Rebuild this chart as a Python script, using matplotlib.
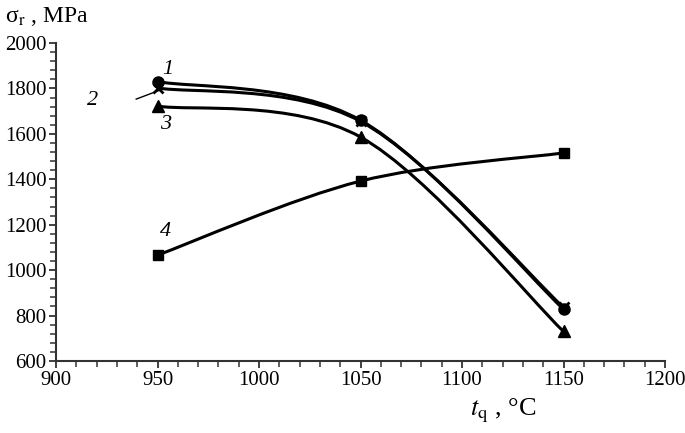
import matplotlib
matplotlib.use("Agg")
import matplotlib.pyplot as plt
from matplotlib.path import Path
from matplotlib.patches import PathPatch
from matplotlib.ticker import MultipleLocator

plt.rcParams["font.family"] = ["Liberation Serif", "DejaVu Serif"]
plt.rcParams["mathtext.fontset"] = "stix"

t_q = [950, 1050, 1150]
sigma_1 = [1830, 1660, 828]
sigma_2 = [1802, 1655, 836]
sigma_3 = [1722, 1586, 730]
sigma_4 = [1066, 1392, 1516]

series = [
    (sigma_1, "o", 8, "1"),
    (sigma_2, "x", 7, "2"),
    (sigma_3, "^", 9, "3"),
    (sigma_4, "s", 7, "4"),
]


def smooth_path(xs, ys):
    # excel-like smoothed line: cubic bezier with catmull-rom tangents
    pts = list(zip(xs, ys))
    verts = [pts[0]]
    codes = [Path.MOVETO]
    n = len(pts)
    for i in range(n - 1):
        p0 = pts[i - 1] if i > 0 else pts[i]
        p1 = pts[i]
        p2 = pts[i + 1]
        p3 = pts[i + 2] if i + 2 < n else pts[i + 1]
        c1 = (p1[0] + (p2[0] - p0[0]) / 6, p1[1] + (p2[1] - p0[1]) / 6)
        c2 = (p2[0] - (p3[0] - p1[0]) / 6, p2[1] - (p3[1] - p1[1]) / 6)
        verts += [c1, c2, p2]
        codes += [Path.CURVE4] * 3
    return Path(verts, codes)


fig = plt.figure(figsize=(6.85, 4.33), dpi=100)
ax = fig.add_axes([0.0818, 0.1663, 0.889, 0.7344])

for ys, mk, ms, name in series:
    patch = PathPatch(smooth_path(t_q, ys), facecolor="none", edgecolor="black",
                      linewidth=2.2, zorder=2)
    ax.add_patch(patch)
    ax.plot(t_q, ys, linestyle="none", marker=mk, markersize=ms, color="black",
            markeredgewidth=2 if mk == "x" else 1, zorder=3)

ax.set_xlim(900, 1200)
ax.set_ylim(600, 2000)
ax.xaxis.set_major_locator(MultipleLocator(50))
ax.xaxis.set_minor_locator(MultipleLocator(10))
ax.yaxis.set_major_locator(MultipleLocator(200))
ax.yaxis.set_minor_locator(MultipleLocator(40))

for s in ["top", "right"]:
    ax.spines[s].set_visible(False)
for s in ["left", "bottom"]:
    ax.spines[s].set_color("#333333")
    ax.spines[s].set_linewidth(1.5)

ax.tick_params(which="major", length=5, width=1.3, color="#333333", labelsize=15, pad=2)
ax.tick_params(which="minor", length=4, width=1.1, color="#333333")

# curve labels
lab = dict(fontsize=16, style="italic", color="black")
ax.text(955, 1885, "1", ha="center", va="center", **lab)
ax.text(918, 1745, "2", ha="center", va="center", **lab)
ax.text(954, 1643, "3", ha="center", va="center", **lab)
ax.text(954, 1168, "4", ha="center", va="center", **lab)
ax.plot([939.5, 952.5], [1753, 1797], color="black", linewidth=1)

fig.text(0.007, 0.962, r"σ$_{\mathrm{r}}$ , MPa", fontsize=17, ha="left", va="center")
fig.text(0.686, 0.052, r"$t_{\mathrm{q}}$ , °C", fontsize=19, ha="left", va="center")

fig.savefig("out.png", dpi=100)
